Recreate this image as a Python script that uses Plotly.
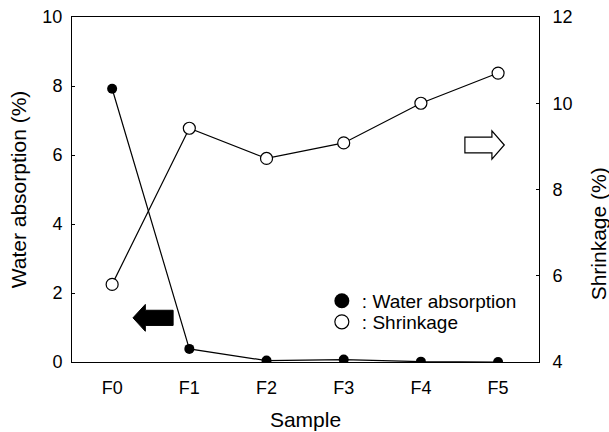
import plotly.graph_objects as go

samples = ["F0", "F1", "F2", "F3", "F4", "F5"]
water_absorption = [7.92, 0.38, 0.04, 0.07, 0.01, 0.0]
shrinkage = [5.8, 9.42, 8.72, 9.08, 10.0, 10.7]
left_ticks = [0, 2, 4, 6, 8, 10]
right_ticks = [4, 6, 8, 10, 12]

FONT = "Liberation Sans, Arial, sans-serif"
xi = list(range(len(samples)))

fig = go.Figure()
fig.add_trace(go.Scatter(
    x=xi, y=water_absorption, mode="lines+markers", showlegend=False,
    line=dict(color="black", width=1.2),
    marker=dict(symbol="circle", size=10, color="black"),
))
fig.add_trace(go.Scatter(
    x=xi, y=shrinkage, mode="lines+markers", showlegend=False, yaxis="y2",
    line=dict(color="black", width=1.2),
    marker=dict(symbol="circle", size=12, color="white", line=dict(color="black", width=1.2)),
))
# legend entries
fig.add_trace(go.Scatter(
    x=[None], y=[None], mode="markers", name=": Water absorption", legend="legend",
    marker=dict(symbol="circle", size=15, color="black"),
))
fig.add_trace(go.Scatter(
    x=[None], y=[None], mode="markers", name=": Shrinkage", legend="legend2",
    marker=dict(symbol="circle", size=14, color="white", line=dict(color="black", width=1.2)),
))

# arrows
def arrow_path(x0, x1, yc, head_len, head_h, body_h, left):
    if left:
        pts = [(x0, yc), (x0 + head_len, yc + head_h), (x0 + head_len, yc + body_h),
               (x1, yc + body_h), (x1, yc - body_h), (x0 + head_len, yc - body_h),
               (x0 + head_len, yc - head_h)]
    else:
        pts = [(x1, yc), (x1 - head_len, yc + head_h), (x1 - head_len, yc + body_h),
               (x0, yc + body_h), (x0, yc - body_h), (x1 - head_len, yc - body_h),
               (x1 - head_len, yc - head_h)]
    return "M " + " L ".join(f"{a},{b}" for a, b in pts) + " Z"

fig.add_shape(type="path", xref="x", yref="y",
              path=arrow_path(0.27, 0.79, 1.28, 0.16, 0.39, 0.22, True),
              fillcolor="black", line=dict(color="black", width=1))
fig.add_shape(type="path", xref="x", yref="y",
              path=arrow_path(4.57, 5.08, 6.29, 0.16, 0.41, 0.23, False),
              fillcolor="white", line=dict(color="black", width=1.2))

legend_common = dict(xanchor="left", yanchor="middle", bgcolor="rgba(0,0,0,0)",
                     font=dict(size=19, family=FONT, color="black"), itemwidth=30,
                     borderwidth=0)

fig.update_layout(
    width=609, height=432,
    margin=dict(l=72, r=70, t=17, b=70),
    paper_bgcolor="white", plot_bgcolor="white",
    font=dict(family=FONT, color="black", size=18),
    showlegend=True,
    legend=dict(x=0.535, y=0.177, **legend_common),
    legend2=dict(x=0.535, y=0.116, **legend_common),
    xaxis=dict(
        range=[-0.52, 5.53], tickmode="array", tickvals=xi, ticktext=samples,
        showline=True, linecolor="black", linewidth=1, mirror=True,
        ticks="", showgrid=False, zeroline=False, ticklabelstandoff=9,
        automargin=False,
        title=dict(text="Sample", font=dict(size=21), standoff=15),
        tickfont=dict(size=18),
    ),
    yaxis=dict(
        range=[0, 10], tickvals=left_ticks,
        showline=True, linecolor="black", linewidth=1,
        ticks="inside", ticklen=3, tickcolor="black", ticklabelstandoff=5,
        showgrid=False, zeroline=False, automargin=False,
        title=dict(text="Water absorption (%)", font=dict(size=21), standoff=10),
        tickfont=dict(size=18),
    ),
    yaxis2=dict(
        range=[4, 12], tickvals=right_ticks, overlaying="y", side="right",
        showline=True, linecolor="black", linewidth=1,
        ticks="inside", ticklen=3, tickcolor="black", ticklabelstandoff=9,
        showgrid=False, zeroline=False, automargin=False,
        tickfont=dict(size=18),
    ),
    annotations=[dict(
        text="Shrinkage (%)", textangle=-90, xref="paper", yref="paper",
        x=1, y=0.37, xanchor="center", yanchor="middle", xshift=59,
        showarrow=False, font=dict(size=21, family=FONT, color="black"),
    )],
)

fig.write_html("out.html")
